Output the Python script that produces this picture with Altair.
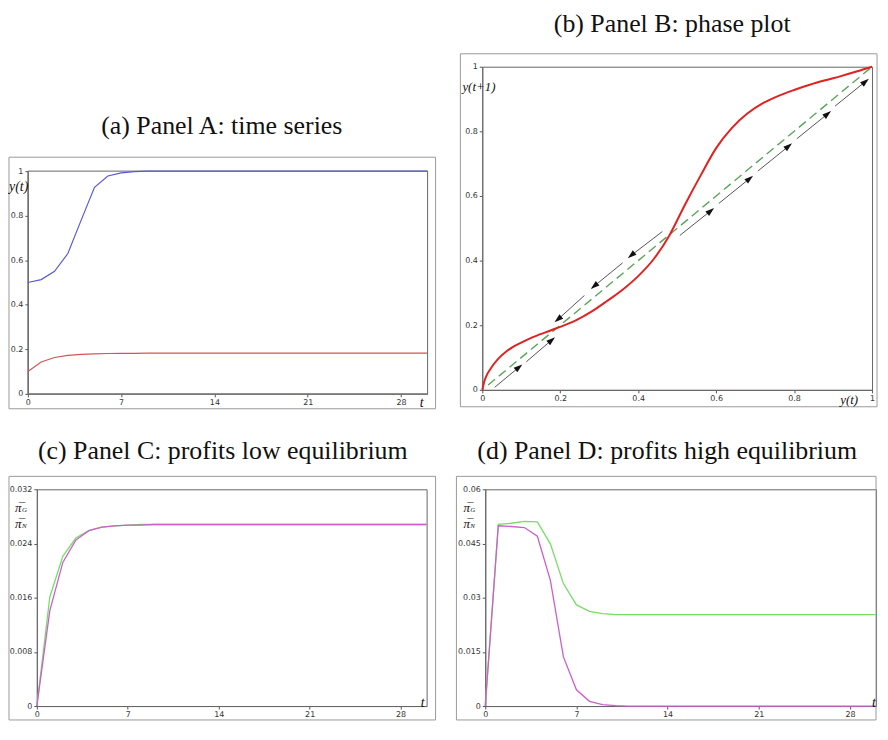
import math
import altair as alt
import pandas as pd

# ---------------- data ----------------
# Panel A: time series
a_t = [0, 1, 2, 3, 4, 5, 6, 7, 8, 9, 10, 11, 12, 30]
a_high = [0.5, 0.513, 0.55, 0.63, 0.78, 0.927, 0.978, 0.992, 0.998, 1.0, 1.0, 1.0, 1.0, 1.0]
a_low = [0.1, 0.143, 0.163, 0.173, 0.177, 0.179, 0.181, 0.182, 0.182, 0.183, 0.183, 0.183, 0.183, 0.183]

# Panel B: phase plot
b_x = [0.0, 0.005, 0.01, 0.02, 0.04, 0.06, 0.08, 0.10, 0.12, 0.14, 0.16, 0.18, 0.20, 0.24,
       0.28, 0.32, 0.36, 0.40, 0.44, 0.48, 0.52, 0.56, 0.60, 0.64, 0.68, 0.72, 0.76, 0.80,
       0.84, 0.88, 0.92, 0.96, 1.0]
b_y = [0.0, 0.025, 0.042, 0.063, 0.095, 0.117, 0.134, 0.146, 0.158, 0.168, 0.177, 0.186, 0.195, 0.215,
       0.242, 0.275, 0.31, 0.352, 0.405, 0.478, 0.573, 0.663, 0.748, 0.81, 0.855, 0.887, 0.91, 0.928,
       0.944, 0.958, 0.971, 0.985, 1.0]
diag = [0.015, 1.0]
arr_x0 = [0.032, 0.113, 0.462, 0.36, 0.262, 0.507, 0.607, 0.707, 0.807, 0.905]
arr_y0 = [0.008, 0.087, 0.49, 0.393, 0.292, 0.478, 0.577, 0.677, 0.777, 0.878]
arr_x1 = [0.094, 0.178, 0.382, 0.287, 0.194, 0.586, 0.686, 0.786, 0.886, 0.983]
arr_y1 = [0.07, 0.154, 0.416, 0.321, 0.218, 0.554, 0.654, 0.754, 0.854, 0.954]
arr_dir = ["up", "up", "down", "down", "down", "up", "up", "up", "up", "up"]

# Panel C: profits, low equilibrium
c_t = [0, 1, 2, 3, 4, 5, 6, 7, 8, 9, 30]
c_g = [0.0, 0.0161, 0.0221, 0.0248, 0.0259, 0.0264, 0.0266, 0.0267, 0.0268, 0.0268, 0.0268]
c_n = [0.0, 0.0141, 0.0212, 0.0245, 0.0259, 0.0264, 0.0266, 0.0267, 0.0267, 0.0268, 0.0268]

# Panel D: profits, high equilibrium
d_t = [0, 1, 2, 3, 4, 5, 6, 7, 8, 9, 10, 11, 30]
d_g = [0.0, 0.0503, 0.0506, 0.0511, 0.051, 0.0449, 0.0339, 0.028, 0.0262, 0.0256, 0.0253, 0.0253, 0.0253]
d_n = [0.0, 0.0499, 0.0497, 0.0494, 0.047, 0.0348, 0.0136, 0.0045, 0.0013, 0.0004, 0.0001, 0.0, 0.0]

t_ticks = [0, 7, 14, 21, 28]

TITLE_FONT = "Liberation Serif"
TITLE_SIZE = 26
one = pd.DataFrame({"k": [0]})


def text_at(txt, x, y, size, style="normal", align="left", color="#111", font=TITLE_FONT):
    return alt.Chart(one).mark_text(
        text=txt, fontSize=size, font=font, fontStyle=style, align=align,
        baseline="middle", color=color
    ).encode(x=alt.value(x), y=alt.value(y))


def frame(x0, x1, y0, y1, color="#9a9a9a"):
    return alt.Chart(one).mark_rect(
        fillOpacity=0, stroke=color, strokeWidth=1
    ).encode(x=alt.value(x0), x2=alt.value(x1), y=alt.value(y0), y2=alt.value(y1))


def t_axis(rng=None):
    sc = alt.Scale(domain=[0, 30], nice=False) if rng is None else alt.Scale(domain=[0, 30], nice=False, range=rng)
    return alt.X("t:Q", scale=sc, axis=alt.Axis(values=t_ticks, labelFlush=False), title=None)


def y_axis(field, dom, vals, rng=None, offset=0):
    sc = alt.Scale(domain=dom, nice=False) if rng is None else alt.Scale(domain=dom, nice=False, range=rng)
    return alt.Y(field, scale=sc, axis=alt.Axis(values=vals, format=".4~g", offset=offset), title=None)


# ---------------- Panel A ----------------
# A shares its origin with B (row) and with C (column), so its plot sits inside a larger view
AX0, AX1 = -9, 393          # plot x-range inside the view
HA_VIEW, HA = 329, 224
TOPA = HA_VIEW - HA
dfa = pd.DataFrame({"t": a_t, "high": a_high, "low": a_low})
a_vals = [0, 0.2, 0.4, 0.6, 0.8, 1]
pa = alt.layer(
    frame(-28, AX1 + 8, TOPA - 14, HA_VIEW + 15),
    frame(AX0, AX1, TOPA, HA_VIEW, color="#666"),
    alt.Chart(dfa).mark_line(color="#5a5ad2", strokeWidth=1.2).encode(
        x=t_axis([AX0, AX1]), y=y_axis("high:Q", [0, 1], a_vals, [HA_VIEW, TOPA], offset=9)),
    alt.Chart(dfa).mark_line(color="#d45555", strokeWidth=1.2).encode(
        x=t_axis([AX0, AX1]), y=y_axis("low:Q", [0, 1], a_vals, [HA_VIEW, TOPA], offset=9)),
    text_at("(a) Panel A: time series", 186, TOPA - 45, TITLE_SIZE, align="center"),
    text_at("y(t)", -28, TOPA + 16, 14, style="italic"),
    text_at("t", 385, HA_VIEW + 9, 14, style="italic"),
).properties(width=AX1, height=HA_VIEW, view=alt.ViewBackground(stroke="transparent"))

# ---------------- Panel B ----------------
WB, HB = 392, 325
dfb = pd.DataFrame({"x": b_x, "y": b_y})
dfd = pd.DataFrame({"x": diag, "y": diag})
dfarr = pd.DataFrame({"x0": arr_x0, "y0": arr_y0, "x1": arr_x1, "y1": arr_y1, "dir": arr_dir})
unit = [0, 0.2, 0.4, 0.6, 0.8, 1]
bx = alt.X("x:Q", scale=alt.Scale(domain=[0, 1], nice=False),
           axis=alt.Axis(values=unit, format="~g", labelFlush=False), title=None)
by = alt.Y("y:Q", scale=alt.Scale(domain=[0, 1], nice=False),
           axis=alt.Axis(values=unit, format="~g"), title=None)
ang_up = 90 - math.degrees(math.atan2(HB, WB))
ang_dn = ang_up + 180
HEAD = "M0,-1L0.65,1L-0.65,1Z"
pb = alt.layer(
    frame(-22, WB + 5, -13, HB + 17),
    alt.Chart(dfd).mark_line(color="#5aa55a", strokeWidth=1.4, strokeDash=[9, 5]).encode(x=bx, y=by),
    alt.Chart(dfarr).mark_rule(color="#555", strokeWidth=1).encode(
        x=alt.X("x0:Q", scale=alt.Scale(domain=[0, 1], nice=False), title=None),
        y=alt.Y("y0:Q", scale=alt.Scale(domain=[0, 1], nice=False), title=None),
        x2="x1:Q", y2="y1:Q"),
    alt.Chart(dfarr).transform_filter(alt.datum.dir == "up").mark_point(
        shape=HEAD, filled=True, size=80, color="#111", opacity=1, angle=ang_up).encode(
        x=alt.X("x1:Q", title=None), y=alt.Y("y1:Q", title=None)),
    alt.Chart(dfarr).transform_filter(alt.datum.dir == "down").mark_point(
        shape=HEAD, filled=True, size=80, color="#111", opacity=1, angle=ang_dn).encode(
        x=alt.X("x1:Q", title=None), y=alt.Y("y1:Q", title=None)),
    alt.Chart(dfb).mark_line(color="#e02222", strokeWidth=2, interpolate="monotone").encode(x=bx, y=by),
    text_at("(b) Panel B: phase plot", 191, -43, TITLE_SIZE, align="center"),
    text_at("y(t+1)", -20, 20, 13, style="italic"),
    text_at("y(t)", 360, HB + 10, 13, style="italic"),
).properties(width=WB, height=HB)

# ---------------- Panel C ----------------
WC, HC = 392, 218
dfc = pd.DataFrame({"t": c_t, "g": c_g, "n": c_n})
cy_vals = [0, 0.008, 0.016, 0.024, 0.032]
pc = alt.layer(
    frame(-28, WC + 9, -13, HC + 14),
    alt.Chart(dfc).mark_line(color="#77dd66", strokeWidth=1.3).encode(
        x=t_axis(), y=y_axis("g:Q", [0, 0.032], cy_vals)),
    alt.Chart(dfc).mark_line(color="#cc5fcc", strokeWidth=1.3).encode(
        x=t_axis(), y=y_axis("n:Q", [0, 0.032], cy_vals)),
    text_at("(c) Panel C: profits low equilibrium", 187, -38, TITLE_SIZE, align="center"),
    text_at("π\u0305", -22, 19, 13, style="italic"),
    text_at("G", -15, 21, 7, style="italic"),
    text_at("π\u0305", -22, 35, 13, style="italic"),
    text_at("N", -15, 37, 7, style="italic"),
    text_at("t", 386, HC - 3, 14, style="italic"),
).properties(width=WC, height=HC)

# ---------------- Panel D ----------------
WD, HD = 393, 218
dfdd = pd.DataFrame({"t": d_t, "g": d_g, "n": d_n})
dy_vals = [0, 0.015, 0.03, 0.045, 0.06]
pd_ = alt.layer(
    frame(-29, WD, -13, HD + 14),
    alt.Chart(dfdd).mark_line(color="#77dd66", strokeWidth=1.3).encode(
        x=t_axis(), y=y_axis("g:Q", [0, 0.06], dy_vals)),
    alt.Chart(dfdd).mark_line(color="#cc5fcc", strokeWidth=1.3).encode(
        x=t_axis(), y=y_axis("n:Q", [0, 0.06], dy_vals)),
    text_at("(d) Panel D: profits high equilibrium", 183, -38, TITLE_SIZE, align="center"),
    text_at("π\u0305", -22, 19, 13, style="italic"),
    text_at("G", -15, 21, 7, style="italic"),
    text_at("π\u0305", -22, 35, 13, style="italic"),
    text_at("N", -15, 37, 7, style="italic"),
    text_at("t", 389, HD - 3, 14, style="italic"),
).properties(width=WD, height=HD)

chart = alt.vconcat(
    alt.hconcat(pa, pb, spacing=22),
    alt.hconcat(pc, pd_, spacing=19),
    spacing=27,
).properties(
    padding={"top": 0, "bottom": 0, "left": 0, "right": 0}
).configure_view(
    stroke="#666", strokeWidth=1
).configure_axis(
    grid=False, labelFont="DejaVu Sans", labelFontSize=8, labelColor="#333",
    tickColor="#555", tickSize=3, domainColor="#666", labelPadding=2
)

chart.save("out.html", embed_options={"renderer": "svg", "actions": False})
